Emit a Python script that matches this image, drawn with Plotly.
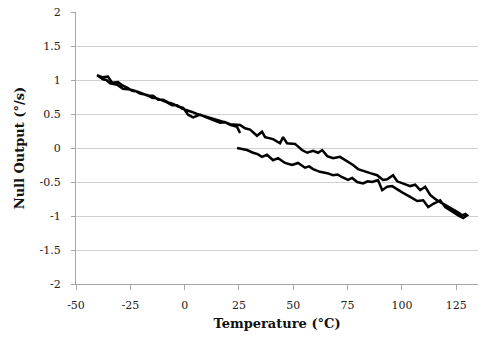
import plotly.graph_objects as go

# Temperature sweep: heat 25 -> 130, cool 130 -> -40, heat -40 -> 25
temperature = [
    24.1, 26.3, 28.7, 31.5, 33.6, 35.6, 37.9, 40.7, 43.0, 46.2, 49.4, 52.2, 55.4, 57.3, 59.1,
    62.3, 65.6, 68.3, 70.4, 72.5, 75.2, 77.1, 79.4, 82.1, 84.2, 86.3, 89.0, 90.9, 93.2,
    95.5, 98.2, 100.5, 103.8, 107.0, 109.8, 112.1, 114.4, 117.6, 119.9, 123.1, 125.9,
    128.2, 130.0, 129.1,
    127.7, 125.4, 122.2, 119.0, 116.2, 113.0, 110.7, 108.4, 106.1, 103.8, 100.5, 97.8,
    95.9, 93.2, 91.3, 88.6, 85.4, 82.1, 79.8, 77.5, 73.8, 71.5, 68.3, 65.6, 63.3, 61.4,
    59.1, 56.4, 54.0, 50.8, 47.1, 45.3, 43.9, 40.7, 37.0, 35.6, 33.3, 30.1, 27.8, 25.5,
    20.9, 19.5, 17.2, 14.9, 12.6, 10.3, 8.0, 5.7, 3.4, 1.1, -1.2, -3.5, -5.8, -8.1,
    -10.4, -12.7, -15.0, -17.3, -20.5, -22.8, -25.1, -28.4, -31.1, -34.3, -36.0, -37.6,
    -40.3,
    -38.0, -35.3, -33.4, -30.7, -28.6, -26.5, -24.2, -21.9, -19.2, -16.9, -14.5, -12.2,
    -9.9, -7.6, -5.3, -3.0, -0.7, 1.6, 3.9, 7.1, 9.4, 11.7, 14.0, 16.3, 18.6, 20.9, 24.1,
    25.5,
]
null_output = [
    0.00, -0.01, -0.03, -0.07, -0.09, -0.13, -0.10, -0.18, -0.15, -0.22, -0.25, -0.22, -0.29, -0.27, -0.31,
    -0.35, -0.37, -0.40, -0.39, -0.43, -0.47, -0.44, -0.50, -0.52, -0.49, -0.50, -0.47, -0.62, -0.57,
    -0.56, -0.62, -0.66, -0.72, -0.78, -0.77, -0.87, -0.82, -0.77, -0.87, -0.94, -0.99,
    -1.03, -0.99, -0.97,
    -0.99, -0.94, -0.88, -0.81, -0.77, -0.69, -0.57, -0.62, -0.54, -0.56, -0.52, -0.49,
    -0.40, -0.46, -0.47, -0.40, -0.37, -0.34, -0.31, -0.25, -0.18, -0.13, -0.15, -0.12, -0.03, -0.07,
    -0.04, -0.07, -0.03, 0.06, 0.07, 0.16, 0.07, 0.13, 0.16, 0.24, 0.18, 0.27, 0.29, 0.34,
    0.35, 0.37, 0.39, 0.41, 0.44, 0.46, 0.48, 0.50, 0.53, 0.56, 0.58, 0.63, 0.63, 0.67,
    0.70, 0.73, 0.74, 0.78, 0.80, 0.84, 0.86, 0.87, 0.93, 0.95, 1.00, 1.01,
    1.07,
    1.04, 1.05, 0.96, 0.97, 0.92, 0.89, 0.84, 0.83, 0.80, 0.77, 0.77, 0.71,
    0.71, 0.67, 0.65, 0.61, 0.59, 0.49, 0.45, 0.49, 0.46, 0.43, 0.41, 0.37, 0.38, 0.34, 0.31,
    0.22,
]

x_tickvals = [-50, -25, 0, 25, 50, 75, 100, 125]
x_ticktext = ["-50", "-25", "0", "25", "50", "75", "100", "125"]
y_tickvals = [-2, -1.5, -1, -0.5, 0, 0.5, 1, 1.5, 2]
y_ticktext = ["-2", "-1.5", "-1", "-0.5", "0", "0.5", "1", "1.5", "2"]

FONT = "DejaVu Serif"

fig = go.Figure()
fig.add_trace(go.Scatter(
    x=temperature, y=null_output, mode="lines",
    line=dict(color="black", width=2.5),
    showlegend=False,
))

fig.update_layout(
    width=499, height=351,
    margin=dict(l=76, r=21, t=12, b=67),
    paper_bgcolor="white", plot_bgcolor="white",
    font=dict(family=FONT, size=11, color="#222"),
    xaxis=dict(
        range=[-50, 135], tickvals=x_tickvals, ticktext=x_ticktext,
        showgrid=False, zeroline=False, automargin=False,
        showline=True, linecolor="#a6a6a6", linewidth=1,
        ticks="outside", ticklen=5, tickcolor="#a6a6a6",
        ticklabelstandoff=6,
        title=dict(text="<b>Temperature (°C)</b>", font=dict(family=FONT, size=13, color="#111"), standoff=7),
    ),
    yaxis=dict(
        range=[-2, 2], tickvals=y_tickvals, ticktext=y_ticktext,
        showgrid=True, gridcolor="#d0d0d0", gridwidth=1, zeroline=False, automargin=False,
        showline=True, linecolor="#a6a6a6", linewidth=1,
        ticks="outside", ticklen=4, tickcolor="#a6a6a6",
        ticklabelstandoff=8,
        title=dict(text="<b>Null Output (°/s)</b>", font=dict(family=FONT, size=13, color="#111"), standoff=12),
    ),
)

fig.write_html("out.html")
